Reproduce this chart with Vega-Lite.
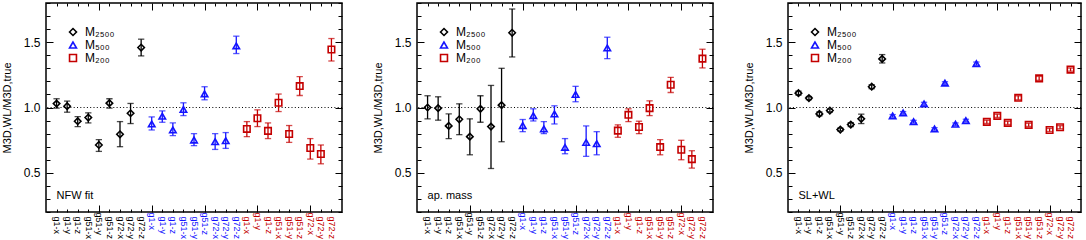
{
"$schema": "https://vega.github.io/schema/vega-lite/v6.json",
"padding": {"left": 0, "top": 1, "right": 0, "bottom": 0},
"spacing": 27,
"datasets": {
"ref": [{"ref": 1}],
"notes": [
{"method": "NFW fit", "idx": 1, "y": 0.32, "label": "NFW fit"},
{"method": "ap. mass", "idx": 1, "y": 0.32, "label": "ap. mass"},
{"method": "SL+WL", "idx": 1, "y": 0.32, "label": "SL+WL"}
],
"pts": [
{"method":"NFW fit","idx":1,"mass":"M₂₅₀₀","value":1.03,"lo":0.995,"hi":1.067},
{"method":"NFW fit","idx":2,"mass":"M₂₅₀₀","value":1.01,"lo":0.964,"hi":1.049},
{"method":"NFW fit","idx":3,"mass":"M₂₅₀₀","value":0.895,"lo":0.854,"hi":0.93},
{"method":"NFW fit","idx":4,"mass":"M₂₅₀₀","value":0.923,"lo":0.882,"hi":0.959},
{"method":"NFW fit","idx":5,"mass":"M₂₅₀₀","value":0.713,"lo":0.664,"hi":0.754},
{"method":"NFW fit","idx":6,"mass":"M₂₅₀₀","value":1.033,"lo":0.995,"hi":1.067},
{"method":"NFW fit","idx":7,"mass":"M₂₅₀₀","value":0.795,"lo":0.70,"hi":0.892},
{"method":"NFW fit","idx":8,"mass":"M₂₅₀₀","value":0.956,"lo":0.877,"hi":1.031},
{"method":"NFW fit","idx":9,"mass":"M₂₅₀₀","value":1.459,"lo":1.395,"hi":1.523},
{"method":"NFW fit","idx":10,"mass":"M₅₀₀","value":0.874,"lo":0.828,"hi":0.928},
{"method":"NFW fit","idx":11,"mass":"M₅₀₀","value":0.933,"lo":0.887,"hi":0.974},
{"method":"NFW fit","idx":12,"mass":"M₅₀₀","value":0.828,"lo":0.785,"hi":0.882},
{"method":"NFW fit","idx":13,"mass":"M₅₀₀","value":0.985,"lo":0.938,"hi":1.036},
{"method":"NFW fit","idx":14,"mass":"M₅₀₀","value":0.751,"lo":0.708,"hi":0.80},
{"method":"NFW fit","idx":15,"mass":"M₅₀₀","value":1.105,"lo":1.059,"hi":1.159},
{"method":"NFW fit","idx":16,"mass":"M₅₀₀","value":0.738,"lo":0.679,"hi":0.80},
{"method":"NFW fit","idx":17,"mass":"M₅₀₀","value":0.746,"lo":0.687,"hi":0.808},
{"method":"NFW fit","idx":18,"mass":"M₅₀₀","value":1.472,"lo":1.413,"hi":1.546},
{"method":"NFW fit","idx":19,"mass":"M₂₀₀","value":0.836,"lo":0.777,"hi":0.892},
{"method":"NFW fit","idx":20,"mass":"M₂₀₀","value":0.918,"lo":0.854,"hi":0.982},
{"method":"NFW fit","idx":21,"mass":"M₂₀₀","value":0.821,"lo":0.762,"hi":0.882},
{"method":"NFW fit","idx":22,"mass":"M₂₀₀","value":1.036,"lo":0.969,"hi":1.103},
{"method":"NFW fit","idx":23,"mass":"M₂₀₀","value":0.797,"lo":0.733,"hi":0.862},
{"method":"NFW fit","idx":24,"mass":"M₂₀₀","value":1.164,"lo":1.092,"hi":1.236},
{"method":"NFW fit","idx":25,"mass":"M₂₀₀","value":0.69,"lo":0.605,"hi":0.762},
{"method":"NFW fit","idx":26,"mass":"M₂₀₀","value":0.644,"lo":0.569,"hi":0.713},
{"method":"NFW fit","idx":27,"mass":"M₂₀₀","value":1.444,"lo":1.356,"hi":1.528},
{"method":"ap. mass","idx":1,"mass":"M₂₅₀₀","value":1.0,"lo":0.913,"hi":1.09},
{"method":"ap. mass","idx":2,"mass":"M₂₅₀₀","value":0.995,"lo":0.903,"hi":1.082},
{"method":"ap. mass","idx":3,"mass":"M₂₅₀₀","value":0.859,"lo":0.762,"hi":0.951},
{"method":"ap. mass","idx":4,"mass":"M₂₅₀₀","value":0.91,"lo":0.792,"hi":1.028},
{"method":"ap. mass","idx":5,"mass":"M₂₅₀₀","value":0.777,"lo":0.638,"hi":0.913},
{"method":"ap. mass","idx":6,"mass":"M₂₅₀₀","value":0.99,"lo":0.887,"hi":1.09},
{"method":"ap. mass","idx":7,"mass":"M₂₅₀₀","value":0.854,"lo":0.533,"hi":1.169},
{"method":"ap. mass","idx":8,"mass":"M₂₅₀₀","value":1.018,"lo":0.738,"hi":1.30},
{"method":"ap. mass","idx":9,"mass":"M₂₅₀₀","value":1.572,"lo":1.387,"hi":1.754},
{"method":"ap. mass","idx":10,"mass":"M₅₀₀","value":0.862,"lo":0.815,"hi":0.908},
{"method":"ap. mass","idx":11,"mass":"M₅₀₀","value":0.938,"lo":0.897,"hi":0.99},
{"method":"ap. mass","idx":12,"mass":"M₅₀₀","value":0.836,"lo":0.80,"hi":0.892},
{"method":"ap. mass","idx":13,"mass":"M₅₀₀","value":0.951,"lo":0.874,"hi":1.013},
{"method":"ap. mass","idx":14,"mass":"M₅₀₀","value":0.695,"lo":0.646,"hi":0.762},
{"method":"ap. mass","idx":15,"mass":"M₅₀₀","value":1.10,"lo":1.044,"hi":1.162},
{"method":"ap. mass","idx":16,"mass":"M₅₀₀","value":0.733,"lo":0.626,"hi":0.859},
{"method":"ap. mass","idx":17,"mass":"M₅₀₀","value":0.723,"lo":0.638,"hi":0.815},
{"method":"ap. mass","idx":18,"mass":"M₅₀₀","value":1.456,"lo":1.374,"hi":1.538},
{"method":"ap. mass","idx":19,"mass":"M₂₀₀","value":0.823,"lo":0.772,"hi":0.867},
{"method":"ap. mass","idx":20,"mass":"M₂₀₀","value":0.944,"lo":0.892,"hi":0.99},
{"method":"ap. mass","idx":21,"mass":"M₂₀₀","value":0.851,"lo":0.80,"hi":0.895},
{"method":"ap. mass","idx":22,"mass":"M₂₀₀","value":0.995,"lo":0.938,"hi":1.051},
{"method":"ap. mass","idx":23,"mass":"M₂₀₀","value":0.697,"lo":0.638,"hi":0.754},
{"method":"ap. mass","idx":24,"mass":"M₂₀₀","value":1.174,"lo":1.115,"hi":1.231},
{"method":"ap. mass","idx":25,"mass":"M₂₀₀","value":0.677,"lo":0.60,"hi":0.749},
{"method":"ap. mass","idx":26,"mass":"M₂₀₀","value":0.605,"lo":0.536,"hi":0.669},
{"method":"ap. mass","idx":27,"mass":"M₂₀₀","value":1.374,"lo":1.303,"hi":1.446},
{"method":"SL+WL","idx":1,"mass":"M₂₅₀₀","value":1.11,"lo":1.095,"hi":1.125},
{"method":"SL+WL","idx":2,"mass":"M₂₅₀₀","value":1.072,"lo":1.06,"hi":1.084},
{"method":"SL+WL","idx":3,"mass":"M₂₅₀₀","value":0.951,"lo":0.936,"hi":0.966},
{"method":"SL+WL","idx":4,"mass":"M₂₅₀₀","value":0.977,"lo":0.965,"hi":0.989},
{"method":"SL+WL","idx":5,"mass":"M₂₅₀₀","value":0.831,"lo":0.82,"hi":0.842},
{"method":"SL+WL","idx":6,"mass":"M₂₅₀₀","value":0.869,"lo":0.854,"hi":0.884},
{"method":"SL+WL","idx":7,"mass":"M₂₅₀₀","value":0.913,"lo":0.877,"hi":0.949},
{"method":"SL+WL","idx":8,"mass":"M₂₅₀₀","value":1.159,"lo":1.144,"hi":1.174},
{"method":"SL+WL","idx":9,"mass":"M₂₅₀₀","value":1.372,"lo":1.341,"hi":1.405},
{"method":"SL+WL","idx":10,"mass":"M₅₀₀","value":0.936,"lo":0.926,"hi":0.946},
{"method":"SL+WL","idx":11,"mass":"M₅₀₀","value":0.959,"lo":0.949,"hi":0.969},
{"method":"SL+WL","idx":12,"mass":"M₅₀₀","value":0.892,"lo":0.882,"hi":0.902},
{"method":"SL+WL","idx":13,"mass":"M₅₀₀","value":1.028,"lo":1.016,"hi":1.04},
{"method":"SL+WL","idx":14,"mass":"M₅₀₀","value":0.836,"lo":0.826,"hi":0.846},
{"method":"SL+WL","idx":15,"mass":"M₅₀₀","value":1.187,"lo":1.177,"hi":1.197},
{"method":"SL+WL","idx":16,"mass":"M₅₀₀","value":0.872,"lo":0.862,"hi":0.882},
{"method":"SL+WL","idx":17,"mass":"M₅₀₀","value":0.90,"lo":0.89,"hi":0.91},
{"method":"SL+WL","idx":18,"mass":"M₅₀₀","value":1.336,"lo":1.324,"hi":1.348},
{"method":"SL+WL","idx":19,"mass":"M₂₀₀","value":0.89,"lo":0.878,"hi":0.902},
{"method":"SL+WL","idx":20,"mass":"M₂₀₀","value":0.936,"lo":0.924,"hi":0.948},
{"method":"SL+WL","idx":21,"mass":"M₂₀₀","value":0.882,"lo":0.87,"hi":0.894},
{"method":"SL+WL","idx":22,"mass":"M₂₀₀","value":1.074,"lo":1.059,"hi":1.089},
{"method":"SL+WL","idx":23,"mass":"M₂₀₀","value":0.867,"lo":0.855,"hi":0.879},
{"method":"SL+WL","idx":24,"mass":"M₂₀₀","value":1.223,"lo":1.208,"hi":1.238},
{"method":"SL+WL","idx":25,"mass":"M₂₀₀","value":0.828,"lo":0.816,"hi":0.84},
{"method":"SL+WL","idx":26,"mass":"M₂₀₀","value":0.849,"lo":0.837,"hi":0.861},
{"method":"SL+WL","idx":27,"mass":"M₂₀₀","value":1.29,"lo":1.278,"hi":1.302}
]
},
"hconcat": [
{
"width": 296, "height": 209,
"resolve": {"axis": {"x": "independent", "y": "independent"}},
"layer": [
{"data": {"name": "ref"}, "mark": {"type": "rule", "color": "black", "strokeDash": [1, 2.3], "strokeWidth": 1},
 "encoding": {"y": {"field": "ref", "type": "quantitative", "scale": {"domain": [0.2, 1.8], "nice": false, "zero": false}, "axis": null}}},
{"data": {"name": "pts"}, "transform": [{"filter": "datum.method=='NFW fit'"}],
 "mark": {"type": "point", "filled": false, "strokeWidth": 1.6, "size": 42, "opacity": 1},
 "encoding": {
  "x": {"field": "idx", "type": "quantitative", "scale": {"domain": [0, 28], "nice": false, "zero": false},
   "axis": {"orient": "bottom", "values": [1,2,3,4,5,6,7,8,9,10,11,12,13,14,15,16,17,18,19,20,21,22,23,24,25,26,27], "labelExpr": "['g1-x','g1-y','g1-z','g51-x','g51-y','g51-z','g72-x','g72-y','g72-z'][(datum.value-1)%9]", "labelAngle": 90, "labelFontSize": 9, "labelPadding": 7, "labelOverlap": false, "labelFlush": false, "labelColor": {"condition": [{"test": "datum.value<=9", "value": "#000000"}, {"test": "datum.value<=18", "value": "#1414ff"}], "value": "#c40000"}, "tickSize": {"condition": {"test": "datum.value%5==0", "value": -7}, "value": -3}, "title": null}},
  "y": {"field": "value", "type": "quantitative", "scale": {"domain": [0.2, 1.8], "nice": false, "zero": false},
   "axis": {"orient": "left", "values": [0.2,0.3,0.4,0.5,0.6,0.7,0.8,0.9,1.0,1.1,1.2,1.3,1.4,1.5,1.6,1.7,1.8], "labelExpr": "abs(datum.value*2-round(datum.value*2))<0.01 ? format(datum.value,'.1f') : ''", "tickSize": {"condition": {"test": "abs(datum.value*2-round(datum.value*2))<0.01", "value": -7}, "value": -4}, "labelFontSize": 12, "labelPadding": 13, "title": "M3D,WL/M3D,true", "titleFontSize": 11, "titleFontWeight": "normal", "titlePadding": 11}},
  "color": {"field": "mass", "type": "nominal", "scale": {"domain": ["M₂₅₀₀", "M₅₀₀", "M₂₀₀"], "range": ["#000000", "#1414ff", "#c40000"]}, "legend": {"orient": "none", "legendX": 21, "legendY": 23, "title": null}},
  "shape": {"field": "mass", "type": "nominal", "scale": {"domain": ["M₂₅₀₀", "M₅₀₀", "M₂₀₀"], "range": ["diamond", "triangle-up", "square"]}, "legend": {"orient": "none", "legendX": 21, "legendY": 23, "title": null}}}},
{"data": {"name": "pts"}, "transform": [{"filter": "datum.method=='NFW fit'"}],
 "mark": {"type": "errorbar", "ticks": {"filled": false, "thickness": 0.01, "strokeWidth": 1.3}, "size": 5, "thickness": 1.3},
 "encoding": {
  "x": {"field": "idx", "type": "quantitative", "scale": {"domain": [0, 28], "nice": false, "zero": false}, "axis": null},
  "y": {"field": "lo", "type": "quantitative", "scale": {"domain": [0.2, 1.8], "nice": false, "zero": false}, "axis": null},
  "y2": {"field": "hi"},
  "color": {"field": "mass", "type": "nominal", "scale": {"domain": ["M₂₅₀₀", "M₅₀₀", "M₂₀₀"], "range": ["#000000", "#1414ff", "#c40000"]}, "legend": {"orient": "none", "legendX": 21, "legendY": 23, "title": null}}}},
{"data": {"name": "notes"}, "transform": [{"filter": "datum.method=='NFW fit'"}],
 "mark": {"type": "text", "align": "left", "baseline": "middle", "fontSize": 11, "color": "black"},
 "encoding": {
  "x": {"field": "idx", "type": "quantitative", "scale": {"domain": [0, 28], "nice": false, "zero": false},
   "axis": {"orient": "top", "values": [1,2,3,4,5,6,7,8,9,10,11,12,13,14,15,16,17,18,19,20,21,22,23,24,25,26,27], "labels": false, "tickSize": {"condition": {"test": "datum.value%5==0", "value": -7}, "value": -3}, "title": null}},
  "y": {"field": "y", "type": "quantitative", "scale": {"domain": [0.2, 1.8], "nice": false, "zero": false},
   "axis": {"orient": "right", "values": [0.2,0.3,0.4,0.5,0.6,0.7,0.8,0.9,1.0,1.1,1.2,1.3,1.4,1.5,1.6,1.7,1.8], "labels": false, "tickSize": {"condition": {"test": "abs(datum.value*2-round(datum.value*2))<0.01", "value": -7}, "value": -4}, "title": null}},
  "text": {"field": "label"}}}
]
},
{
"width": 296, "height": 209,
"resolve": {"axis": {"x": "independent", "y": "independent"}},
"layer": [
{"data": {"name": "ref"}, "mark": {"type": "rule", "color": "black", "strokeDash": [1, 2.3], "strokeWidth": 1},
 "encoding": {"y": {"field": "ref", "type": "quantitative", "scale": {"domain": [0.2, 1.8], "nice": false, "zero": false}, "axis": null}}},
{"data": {"name": "pts"}, "transform": [{"filter": "datum.method=='ap. mass'"}],
 "mark": {"type": "point", "filled": false, "strokeWidth": 1.6, "size": 42, "opacity": 1},
 "encoding": {
  "x": {"field": "idx", "type": "quantitative", "scale": {"domain": [0, 28], "nice": false, "zero": false},
   "axis": {"orient": "bottom", "values": [1,2,3,4,5,6,7,8,9,10,11,12,13,14,15,16,17,18,19,20,21,22,23,24,25,26,27], "labelExpr": "['g1-x','g1-y','g1-z','g51-x','g51-y','g51-z','g72-x','g72-y','g72-z'][(datum.value-1)%9]", "labelAngle": 90, "labelFontSize": 9, "labelPadding": 7, "labelOverlap": false, "labelFlush": false, "labelColor": {"condition": [{"test": "datum.value<=9", "value": "#000000"}, {"test": "datum.value<=18", "value": "#1414ff"}], "value": "#c40000"}, "tickSize": {"condition": {"test": "datum.value%5==0", "value": -7}, "value": -3}, "title": null}},
  "y": {"field": "value", "type": "quantitative", "scale": {"domain": [0.2, 1.8], "nice": false, "zero": false},
   "axis": {"orient": "left", "values": [0.2,0.3,0.4,0.5,0.6,0.7,0.8,0.9,1.0,1.1,1.2,1.3,1.4,1.5,1.6,1.7,1.8], "labelExpr": "abs(datum.value*2-round(datum.value*2))<0.01 ? format(datum.value,'.1f') : ''", "tickSize": {"condition": {"test": "abs(datum.value*2-round(datum.value*2))<0.01", "value": -7}, "value": -4}, "labelFontSize": 12, "labelPadding": 13, "title": "M3D,WL/M3D,true", "titleFontSize": 11, "titleFontWeight": "normal", "titlePadding": 11}},
  "color": {"field": "mass", "type": "nominal", "scale": {"domain": ["M₂₅₀₀", "M₅₀₀", "M₂₀₀"], "range": ["#000000", "#1414ff", "#c40000"]}, "legend": {"orient": "none", "legendX": 21, "legendY": 23, "title": null}},
  "shape": {"field": "mass", "type": "nominal", "scale": {"domain": ["M₂₅₀₀", "M₅₀₀", "M₂₀₀"], "range": ["diamond", "triangle-up", "square"]}, "legend": {"orient": "none", "legendX": 21, "legendY": 23, "title": null}}}},
{"data": {"name": "pts"}, "transform": [{"filter": "datum.method=='ap. mass'"}],
 "mark": {"type": "errorbar", "ticks": {"filled": false, "thickness": 0.01, "strokeWidth": 1.3}, "size": 5, "thickness": 1.3},
 "encoding": {
  "x": {"field": "idx", "type": "quantitative", "scale": {"domain": [0, 28], "nice": false, "zero": false}, "axis": null},
  "y": {"field": "lo", "type": "quantitative", "scale": {"domain": [0.2, 1.8], "nice": false, "zero": false}, "axis": null},
  "y2": {"field": "hi"},
  "color": {"field": "mass", "type": "nominal", "scale": {"domain": ["M₂₅₀₀", "M₅₀₀", "M₂₀₀"], "range": ["#000000", "#1414ff", "#c40000"]}, "legend": {"orient": "none", "legendX": 21, "legendY": 23, "title": null}}}},
{"data": {"name": "notes"}, "transform": [{"filter": "datum.method=='ap. mass'"}],
 "mark": {"type": "text", "align": "left", "baseline": "middle", "fontSize": 11, "color": "black"},
 "encoding": {
  "x": {"field": "idx", "type": "quantitative", "scale": {"domain": [0, 28], "nice": false, "zero": false},
   "axis": {"orient": "top", "values": [1,2,3,4,5,6,7,8,9,10,11,12,13,14,15,16,17,18,19,20,21,22,23,24,25,26,27], "labels": false, "tickSize": {"condition": {"test": "datum.value%5==0", "value": -7}, "value": -3}, "title": null}},
  "y": {"field": "y", "type": "quantitative", "scale": {"domain": [0.2, 1.8], "nice": false, "zero": false},
   "axis": {"orient": "right", "values": [0.2,0.3,0.4,0.5,0.6,0.7,0.8,0.9,1.0,1.1,1.2,1.3,1.4,1.5,1.6,1.7,1.8], "labels": false, "tickSize": {"condition": {"test": "abs(datum.value*2-round(datum.value*2))<0.01", "value": -7}, "value": -4}, "title": null}},
  "text": {"field": "label"}}}
]
},
{
"width": 293, "height": 209,
"resolve": {"axis": {"x": "independent", "y": "independent"}},
"layer": [
{"data": {"name": "ref"}, "mark": {"type": "rule", "color": "black", "strokeDash": [1, 2.3], "strokeWidth": 1},
 "encoding": {"y": {"field": "ref", "type": "quantitative", "scale": {"domain": [0.2, 1.8], "nice": false, "zero": false}, "axis": null}}},
{"data": {"name": "pts"}, "transform": [{"filter": "datum.method=='SL+WL'"}],
 "mark": {"type": "point", "filled": false, "strokeWidth": 1.6, "size": 42, "opacity": 1},
 "encoding": {
  "x": {"field": "idx", "type": "quantitative", "scale": {"domain": [0, 28], "nice": false, "zero": false},
   "axis": {"orient": "bottom", "values": [1,2,3,4,5,6,7,8,9,10,11,12,13,14,15,16,17,18,19,20,21,22,23,24,25,26,27], "labelExpr": "['g1-x','g1-y','g1-z','g51-x','g51-y','g51-z','g72-x','g72-y','g72-z'][(datum.value-1)%9]", "labelAngle": 90, "labelFontSize": 9, "labelPadding": 7, "labelOverlap": false, "labelFlush": false, "labelColor": {"condition": [{"test": "datum.value<=9", "value": "#000000"}, {"test": "datum.value<=18", "value": "#1414ff"}], "value": "#c40000"}, "tickSize": {"condition": {"test": "datum.value%5==0", "value": -7}, "value": -3}, "title": null}},
  "y": {"field": "value", "type": "quantitative", "scale": {"domain": [0.2, 1.8], "nice": false, "zero": false},
   "axis": {"orient": "left", "values": [0.2,0.3,0.4,0.5,0.6,0.7,0.8,0.9,1.0,1.1,1.2,1.3,1.4,1.5,1.6,1.7,1.8], "labelExpr": "abs(datum.value*2-round(datum.value*2))<0.01 ? format(datum.value,'.1f') : ''", "tickSize": {"condition": {"test": "abs(datum.value*2-round(datum.value*2))<0.01", "value": -7}, "value": -4}, "labelFontSize": 12, "labelPadding": 13, "title": "M3D,WL/M3D,true", "titleFontSize": 11, "titleFontWeight": "normal", "titlePadding": 11}},
  "color": {"field": "mass", "type": "nominal", "scale": {"domain": ["M₂₅₀₀", "M₅₀₀", "M₂₀₀"], "range": ["#000000", "#1414ff", "#c40000"]}, "legend": {"orient": "none", "legendX": 21, "legendY": 23, "title": null}},
  "shape": {"field": "mass", "type": "nominal", "scale": {"domain": ["M₂₅₀₀", "M₅₀₀", "M₂₀₀"], "range": ["diamond", "triangle-up", "square"]}, "legend": {"orient": "none", "legendX": 21, "legendY": 23, "title": null}}}},
{"data": {"name": "pts"}, "transform": [{"filter": "datum.method=='SL+WL'"}],
 "mark": {"type": "errorbar", "ticks": {"filled": false, "thickness": 0.01, "strokeWidth": 1.3}, "size": 5, "thickness": 1.3},
 "encoding": {
  "x": {"field": "idx", "type": "quantitative", "scale": {"domain": [0, 28], "nice": false, "zero": false}, "axis": null},
  "y": {"field": "lo", "type": "quantitative", "scale": {"domain": [0.2, 1.8], "nice": false, "zero": false}, "axis": null},
  "y2": {"field": "hi"},
  "color": {"field": "mass", "type": "nominal", "scale": {"domain": ["M₂₅₀₀", "M₅₀₀", "M₂₀₀"], "range": ["#000000", "#1414ff", "#c40000"]}, "legend": {"orient": "none", "legendX": 21, "legendY": 23, "title": null}}}},
{"data": {"name": "notes"}, "transform": [{"filter": "datum.method=='SL+WL'"}],
 "mark": {"type": "text", "align": "left", "baseline": "middle", "fontSize": 11, "color": "black"},
 "encoding": {
  "x": {"field": "idx", "type": "quantitative", "scale": {"domain": [0, 28], "nice": false, "zero": false},
   "axis": {"orient": "top", "values": [1,2,3,4,5,6,7,8,9,10,11,12,13,14,15,16,17,18,19,20,21,22,23,24,25,26,27], "labels": false, "tickSize": {"condition": {"test": "datum.value%5==0", "value": -7}, "value": -3}, "title": null}},
  "y": {"field": "y", "type": "quantitative", "scale": {"domain": [0.2, 1.8], "nice": false, "zero": false},
   "axis": {"orient": "right", "values": [0.2,0.3,0.4,0.5,0.6,0.7,0.8,0.9,1.0,1.1,1.2,1.3,1.4,1.5,1.6,1.7,1.8], "labels": false, "tickSize": {"condition": {"test": "abs(datum.value*2-round(datum.value*2))<0.01", "value": -7}, "value": -4}, "title": null}},
  "text": {"field": "label"}}}
]
}
],
"resolve": {"scale": {"color": "independent", "shape": "independent"}, "legend": {"color": "independent", "shape": "independent"}},
"config": {
"font": "Liberation Sans",
"view": {"stroke": "black", "strokeWidth": 1.5},
"axis": {"domain": false, "grid": false, "tickColor": "black", "tickWidth": 1, "labelColor": "black", "titleColor": "black", "labelFont": "Liberation Sans", "titleFont": "Liberation Sans"},
"legend": {"labelFontSize": 12, "labelColor": "black", "symbolSize": 48, "symbolStrokeWidth": 1.6, "rowPadding": -6, "labelOffset": 6, "padding": 0, "labelFont": "Liberation Sans"}
}
}
